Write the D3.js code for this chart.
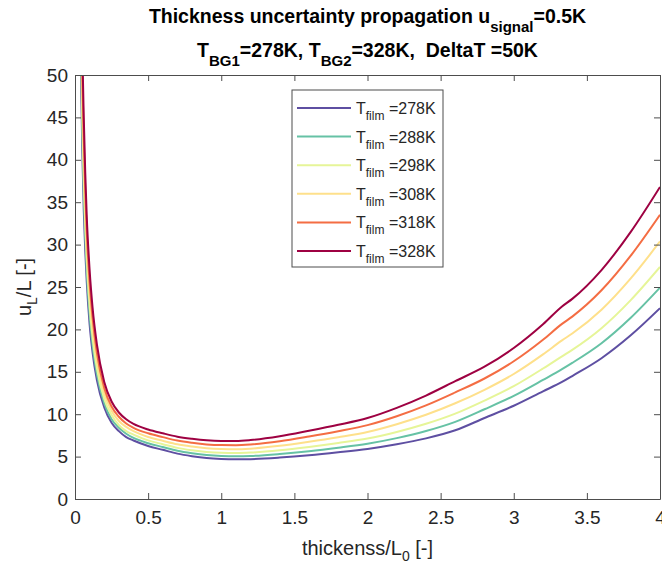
<!DOCTYPE html>
<meta charset="utf-8">
<title>Thickness uncertainty propagation</title>
<style>
    body { margin: 0; background: #fff; }
    svg { display: block; font-family: "Liberation Sans", Arial, sans-serif; }
    svg text { white-space: pre; }
    .tick text { font-size: 19px; fill: #262626; }
    .curve { fill: none; stroke-width: 2px; stroke-linejoin: round; }
</style>
<body>
<svg id="chart"></svg>
<script src="https://d3js.org/d3.v7.min.js"></script>
<script>
    // thickness / L0 sample positions
    var thickness = [0.04, 0.05, 0.06, 0.07, 0.08, 0.1, 0.12, 0.15, 0.2, 0.25, 0.3, 0.35, 0.4,
        0.5, 0.6, 0.7, 0.8, 0.9, 1.0, 1.1, 1.2, 1.4, 1.6, 1.8, 2.0, 2.2, 2.4, 2.6, 2.8,
        3.0, 3.2, 3.33, 3.4, 3.6, 3.8, 4.0];

    // u_L/L for each film temperature
    var u278 = [51, 41, 34, 29.3, 25.7, 20.6, 17.3, 14.0, 10.8, 9.0, 8.0, 7.3, 6.9,
        6.25, 5.8, 5.35, 5.05, 4.83, 4.72, 4.68, 4.7, 4.88, 5.15, 5.5, 5.9, 6.45, 7.15, 8.1, 9.55,
        11.0, 12.7, 13.8, 14.5, 16.6, 19.3, 22.5];
    var u288 = [53.6, 43.0, 35.9, 30.9, 27.0, 21.7, 18.2, 14.7, 11.3, 9.4, 8.4, 7.7, 7.2,
        6.58, 6.13, 5.69, 5.40, 5.19, 5.08, 5.05, 5.08, 5.31, 5.64, 6.05, 6.52, 7.18, 8.01, 9.09, 10.58,
        12.16, 14.04, 15.31, 16.05, 18.37, 21.37, 24.93];
    var u298 = [56.1, 45.1, 37.7, 32.4, 28.4, 22.8, 19.1, 15.4, 11.8, 9.9, 8.7, 8.0, 7.6,
        6.91, 6.46, 6.03, 5.75, 5.54, 5.44, 5.42, 5.47, 5.74, 6.14, 6.61, 7.14, 7.91, 8.87, 10.07, 11.61,
        13.31, 15.39, 16.83, 17.59, 20.14, 23.45, 27.36];
    var u308 = [59.3, 47.6, 40.1, 34.4, 30.0, 24.1, 20.2, 16.3, 12.5, 10.4, 9.2, 8.5, 8.0,
        7.32, 6.87, 6.45, 6.18, 5.98, 5.89, 5.87, 5.94, 6.27, 6.75, 7.29, 7.91, 8.82, 9.93, 11.29, 12.88,
        14.74, 17.05, 18.70, 19.51, 22.32, 26.01, 30.37];
    var u318 = [62.6, 50.2, 42.5, 36.4, 31.7, 25.5, 21.4, 17.2, 13.1, 10.9, 9.7, 8.9, 8.4,
        7.75, 7.3, 6.89, 6.63, 6.44, 6.36, 6.35, 6.43, 6.82, 7.38, 8.0, 8.71, 9.76, 11.04, 12.57, 14.21,
        16.24, 18.78, 20.65, 21.51, 24.61, 28.69, 33.51];
    var u328 = [66, 53, 45, 38.5, 33.5, 27.0, 22.6, 18.2, 13.8, 11.5, 10.2, 9.4, 8.85,
        8.2, 7.75, 7.35, 7.1, 6.92, 6.85, 6.85, 6.95, 7.4, 8.05, 8.75, 9.55, 10.75, 12.2, 13.9, 15.6,
        17.8, 20.6, 22.7, 23.6, 27.0, 31.5, 36.8];

    var filmTemps = ["278K", "288K", "298K", "308K", "318K", "328K"];
    var seriesValues = [u278, u288, u298, u308, u318, u328];
    var colors = ["#5e4fa2", "#66c2a5", "#e6f598", "#fee08b", "#f46d43", "#9e0142"];

    var xTicks = [0, 0.5, 1, 1.5, 2, 2.5, 3, 3.5, 4];
    var yTicks = [0, 5, 10, 15, 20, 25, 30, 35, 40, 45, 50];

    var width = 662, height = 566;
    var margin = { top: 75, right: 2, bottom: 67, left: 75 };

    var svg = d3.select("#chart").attr("width", width).attr("height", height);

    var x = d3.scaleLinear().domain([0, 4]).range([margin.left, width - margin.right]);
    var y = d3.scaleLinear().domain([0, 50]).range([height - margin.bottom, margin.top]);

    svg.append("clipPath").attr("id", "plotClip")
        .append("rect")
        .attr("x", x(0)).attr("y", y(50))
        .attr("width", x(4) - x(0)).attr("height", y(0) - y(50));

    var line = d3.line()
        .x((d, i) => x(thickness[i]))
        .y(d => y(d))
        .curve(d3.curveMonotoneX);

    svg.append("g").attr("clip-path", "url(#plotClip)")
        .selectAll("path")
        .data(seriesValues)
        .join("path")
        .attr("class", "curve")
        .attr("stroke", (d, i) => colors[i])
        .attr("d", line);

    // axes, ticks pointing inwards like the matlab box
    var tickLen = 6;
    function styleAxis(g) {
        g.select(".domain").attr("stroke", "#4d4d4d");
        g.selectAll(".tick line").attr("stroke", "#4d4d4d");
    }
    svg.append("g")
        .attr("transform", "translate(0," + y(0) + ")")
        .call(d3.axisBottom(x).tickValues(xTicks).tickFormat(d3.format("")).tickSizeInner(-tickLen).tickSizeOuter(0).tickPadding(12))
        .call(styleAxis);
    svg.append("g")
        .attr("transform", "translate(0," + y(50) + ")")
        .call(d3.axisTop(x).tickValues(xTicks).tickFormat("").tickSizeInner(-tickLen).tickSizeOuter(0))
        .call(styleAxis);
    svg.append("g")
        .attr("transform", "translate(" + x(0) + ",0)")
        .call(d3.axisLeft(y).tickValues(yTicks).tickSizeInner(-tickLen).tickSizeOuter(0).tickPadding(7))
        .call(styleAxis);
    svg.append("g")
        .attr("transform", "translate(" + x(4) + ",0)")
        .call(d3.axisRight(y).tickValues(yTicks).tickFormat("").tickSizeInner(-tickLen).tickSizeOuter(0))
        .call(styleAxis);

    // axis labels
    var xl = svg.append("text")
        .attr("x", (x(0) + x(4)) / 2).attr("y", 555)
        .attr("text-anchor", "middle").attr("font-size", 20).attr("fill", "#262626");
    xl.append("tspan").text("thickenss/L");
    xl.append("tspan").attr("font-size", 14).attr("dy", 6).text("0");
    xl.append("tspan").attr("dy", -6).text(" [-]");

    var yl = svg.append("text")
        .attr("transform", "translate(31," + y(25) + ") rotate(-90)")
        .attr("text-anchor", "middle").attr("font-size", 20).attr("fill", "#262626");
    yl.append("tspan").text("u");
    yl.append("tspan").attr("font-size", 14).attr("dy", 6).text("L");
    yl.append("tspan").attr("dy", -6).text("/L [-]");

    // title
    var cx = (x(0) + x(4)) / 2;
    var t1 = svg.append("text")
        .attr("x", cx).attr("y", 23)
        .attr("text-anchor", "middle").attr("font-size", 19.5).attr("font-weight", "bold");
    t1.append("tspan").text("Thickness uncertainty propagation u");
    t1.append("tspan").attr("font-size", 15).attr("dy", 9).text("signal");
    t1.append("tspan").attr("dy", -9).text("=0.5K");

    var t2 = svg.append("text")
        .attr("x", cx).attr("y", 57)
        .attr("text-anchor", "middle").attr("font-size", 19.5).attr("font-weight", "bold");
    t2.append("tspan").text("T");
    t2.append("tspan").attr("font-size", 15).attr("dy", 9).text("BG1");
    t2.append("tspan").attr("dy", -9).text("=278K, T");
    t2.append("tspan").attr("font-size", 15).attr("dy", 9).text("BG2");
    t2.append("tspan").attr("dy", -9).text("=328K,  DeltaT =50K");

    // legend
    var legend = svg.append("g").attr("transform", "translate(292,90)");
    legend.append("rect")
        .attr("width", 151).attr("height", 177)
        .attr("fill", "#fff").attr("stroke", "#4d4d4d");
    var rows = legend.selectAll("g.row")
        .data(filmTemps)
        .join("g")
        .attr("class", "row")
        .attr("transform", (d, i) => "translate(0," + (18 + i * 28.6) + ")");
    rows.append("line")
        .attr("x1", 5).attr("x2", 59)
        .attr("stroke", (d, i) => colors[i]).attr("stroke-width", 2);
    var lt = rows.append("text")
        .attr("x", 64).attr("y", 6)
        .attr("font-size", 16).attr("fill", "#262626");
    lt.append("tspan").text("T");
    lt.append("tspan").attr("font-size", 12).attr("dy", 6).text("film");
    lt.append("tspan").attr("dy", -6).text(d => " =" + d);
</script>
</body>
